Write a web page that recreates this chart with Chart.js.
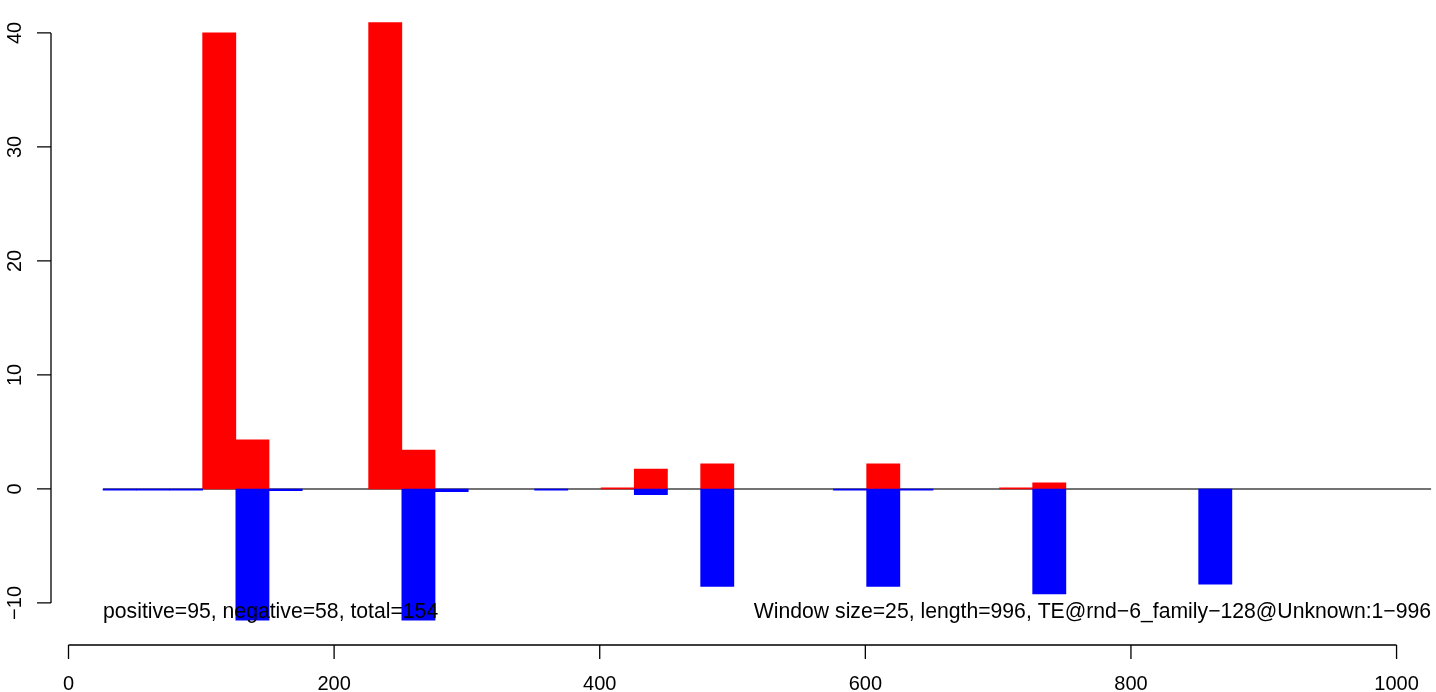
<!DOCTYPE html>
<html>
<head>
<meta charset="utf-8">
<script src="https://cdn.jsdelivr.net/npm/chart.js@4"></script>
<style>
  html, body { margin: 0; padding: 0; background: #fff; }
  canvas { display: block; }
</style>
</head>
<body>
<canvas id="myChart" width="1436" height="692"></canvas>
<script>
// Window start positions (window size 25)
const windowStarts = [1, 26, 51, 76, 101, 126, 151, 176, 201, 226,
                      251, 276, 301, 326, 351, 376, 401, 426, 451, 476,
                      501, 526, 551, 576, 601, 626, 651, 676, 701, 726,
                      751, 776, 801, 826, 851, 876, 901, 926, 951, 976];
const windowSize = 25;

// Positive (red) and negative (blue) values per window, null = nothing drawn
const posValues = [null, null, null, null, 40.0, 4.3, null, null, null, 40.9,
                   3.4, null, null, null, null, null, 0.1, 1.75, null, 2.2,
                   null, null, null, null, 2.2, null, null, null, 0.1, 0.53,
                   null, null, null, null, null, null, null, null, null, null];
const negValues = [null, -0.1, -0.1, -0.1, null, -11.5, -0.15, null, null, null,
                   -11.5, -0.24, null, null, -0.1, null, null, -0.5, null, -8.55,
                   null, null, null, -0.1, -8.55, -0.1, null, null, null, -9.2,
                   null, null, null, null, -8.35, null, null, null, null, null];

// Zero line extent
const zeroLineX = [26, 1026];

// Axis ticks
const xTicks = [0, 200, 400, 600, 800, 1000];
const yTicks = [-10, 0, 10, 20, 30, 40];

// Bottom texts
const leftText = 'positive=95, negative=58, total=154';
const rightText = 'Window size=25, length=996, TE@rnd\u22126_family\u2212128@Unknown:1\u2212996';
const textY = -10.8;

const FONT = '"Liberation Sans", Arial, Helvetica, sans-serif';

// Draws R-style axes and the annotations
const rAxes = {
    id: 'rAxes',
    afterDraw(chart) {
        const ctx = chart.ctx;
        const xs = chart.scales.x;
        const ys = chart.scales.y;
        const area = chart.chartArea;
        ctx.save();
        ctx.strokeStyle = '#000';
        ctx.fillStyle = '#000';
        ctx.lineWidth = 1.3;

        // y axis
        const yl = area.left;
        ctx.beginPath();
        ctx.moveTo(yl, ys.getPixelForValue(yTicks[0]));
        ctx.lineTo(yl, ys.getPixelForValue(yTicks[yTicks.length - 1]));
        yTicks.forEach(t => {
            const py = ys.getPixelForValue(t);
            ctx.moveTo(yl, py);
            ctx.lineTo(yl - 14, py);
        });
        ctx.stroke();
        ctx.font = '20px ' + FONT;
        ctx.textAlign = 'center';
        ctx.textBaseline = 'middle';
        yTicks.forEach(t => {
            const py = ys.getPixelForValue(t);
            ctx.save();
            ctx.translate(yl - 36, py);
            ctx.rotate(-Math.PI / 2);
            ctx.fillText(String(t).replace('-', '\u2212'), 0, 0);
            ctx.restore();
        });

        // x axis
        const xb = area.bottom + 1;
        ctx.beginPath();
        ctx.moveTo(xs.getPixelForValue(xTicks[0]), xb);
        ctx.lineTo(xs.getPixelForValue(xTicks[xTicks.length - 1]), xb);
        xTicks.forEach(t => {
            const px = xs.getPixelForValue(t);
            ctx.moveTo(px, xb);
            ctx.lineTo(px, xb + 14);
        });
        ctx.stroke();
        xTicks.forEach(t => {
            ctx.fillText(String(t), xs.getPixelForValue(t), xb + 39);
        });

        // annotations
        ctx.font = '21.2px ' + FONT;
        const ty = ys.getPixelForValue(textY);
        ctx.textAlign = 'left';
        ctx.fillText(leftText, xs.getPixelForValue(zeroLineX[0]), ty);
        ctx.textAlign = 'right';
        ctx.fillText(rightText, xs.getPixelForValue(zeroLineX[1]), ty);
        ctx.restore();
    }
};

const ctx = document.getElementById('myChart').getContext('2d');

const myChart = new Chart(ctx, {
    type: 'bar',
    data: {
        datasets: [{
            label: 'positive',
            data: windowStarts.map((s, i) => ({x: s + windowSize / 2, y: posValues[i]})),
            backgroundColor: '#ff0000',
            borderWidth: 0,
            barPercentage: 1,
            categoryPercentage: 1,
            grouped: false,
            order: 2
        }, {
            label: 'negative',
            data: windowStarts.map((s, i) => ({x: s + windowSize / 2, y: negValues[i]})),
            backgroundColor: '#0000ff',
            borderWidth: 0,
            barPercentage: 1,
            categoryPercentage: 1,
            grouped: false,
            order: 1
        }, {
            type: 'line',
            label: 'zero',
            data: zeroLineX.map(x => ({x: x, y: 0})),
            borderColor: '#444444',
            borderWidth: 1.4,
            pointRadius: 0,
            fill: false,
            order: 3
        }]
    },
    options: {
        responsive: false,
        animation: false,
        devicePixelRatio: 1,
        layout: {
            padding: {left: 51, right: 0, top: 0, bottom: 48}
        },
        plugins: {
            legend: {display: false},
            tooltip: {enabled: false},
            title: {display: false}
        },
        scales: {
            x: {
                type: 'linear',
                display: false,
                offset: false,
                min: -13.18,
                max: 1029.7
            },
            y: {
                type: 'linear',
                display: false,
                min: -13.6,
                max: 42.89
            }
        }
    },
    plugins: [rAxes]
});
</script>
</body>
</html>
